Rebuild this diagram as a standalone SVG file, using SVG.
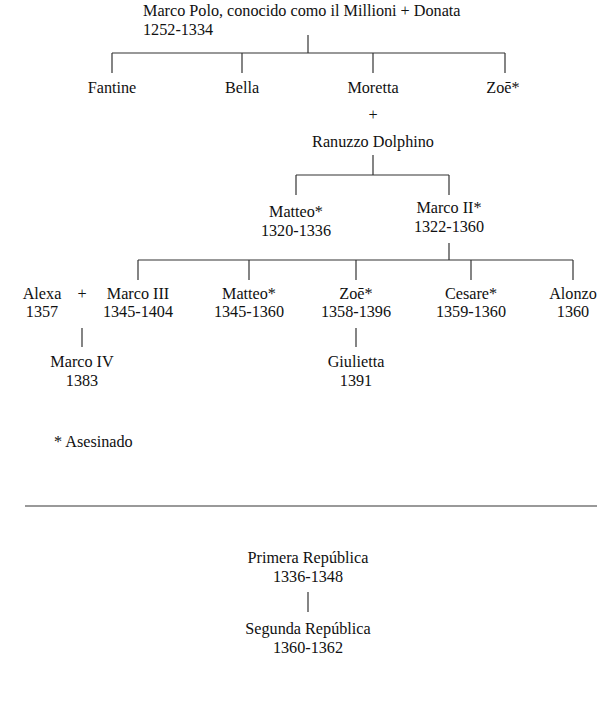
<svg xmlns="http://www.w3.org/2000/svg" width="600" height="707" viewBox="0 0 600 707">
<style>
text{font-family:"Liberation Serif","DejaVu Serif",serif;font-size:16.2px;fill:#111;text-anchor:middle}
.l{text-anchor:start}
.c line{stroke:#333;stroke-width:1.2}
.rule{stroke:#777;stroke-width:1.5}
</style>
<rect width="600" height="707" fill="#fff"/>
<g class="c" id="connectors">
<line x1="308" y1="35" x2="308" y2="53"/>
<line x1="112" y1="53" x2="505" y2="53"/>
<line x1="112" y1="53" x2="112" y2="73"/>
<line x1="242" y1="53" x2="242" y2="73"/>
<line x1="373" y1="53" x2="373" y2="73"/>
<line x1="505" y1="53" x2="505" y2="73"/>
<line x1="373" y1="155" x2="373" y2="175"/>
<line x1="296" y1="175" x2="449" y2="175"/>
<line x1="296" y1="175" x2="296" y2="195"/>
<line x1="449" y1="175" x2="449" y2="195"/>
<line x1="449" y1="243" x2="449" y2="260"/>
<line x1="138" y1="260" x2="573" y2="260"/>
<line x1="138" y1="260" x2="138" y2="280"/>
<line x1="249" y1="260" x2="249" y2="280"/>
<line x1="356" y1="260" x2="356" y2="280"/>
<line x1="471" y1="260" x2="471" y2="280"/>
<line x1="573" y1="260" x2="573" y2="280"/>
<line x1="82" y1="328" x2="82" y2="347"/>
<line x1="356" y1="328" x2="356" y2="347"/>
<line x1="308" y1="592" x2="308" y2="612"/>
</g>
<g id="marco-polo"><text class="l" x="143" y="16">Marco Polo, conocido como il Millioni + Donata</text><text class="l" x="143" y="35">1252-1334</text></g>
<g id="fantine"><text x="112" y="93">Fantine</text></g>
<g id="bella"><text x="242" y="93">Bella</text></g>
<g id="moretta"><text x="373" y="93">Moretta</text><text x="373" y="120">+</text><text x="373" y="147">Ranuzzo Dolphino</text></g>
<g id="zoe1"><text x="503" y="93">Zoē*</text></g>
<g id="matteo1"><text x="296" y="217">Matteo*</text><text x="296" y="236">1320-1336</text></g>
<g id="marco2"><text x="449" y="213">Marco II*</text><text x="449" y="232">1322-1360</text></g>
<g id="alexa"><text x="42" y="299">Alexa</text><text x="42" y="317">1357</text></g>
<g id="plus"><text x="82" y="299">+</text></g>
<g id="marco3"><text x="138" y="299">Marco III</text><text x="138" y="317">1345-1404</text></g>
<g id="matteo2"><text x="249" y="299">Matteo*</text><text x="249" y="317">1345-1360</text></g>
<g id="zoe2"><text x="356" y="299">Zoē*</text><text x="356" y="317">1358-1396</text></g>
<g id="cesare"><text x="471" y="299">Cesare*</text><text x="471" y="317">1359-1360</text></g>
<g id="alonzo"><text x="573" y="299">Alonzo</text><text x="573" y="317">1360</text></g>
<g id="marco4"><text x="82" y="367">Marco IV</text><text x="82" y="386">1383</text></g>
<g id="giulietta"><text x="356" y="367">Giulietta</text><text x="356" y="386">1391</text></g>
<g id="legend"><text class="l" x="54" y="447">* Asesinado</text></g>
<line class="rule" x1="25" y1="506" x2="597" y2="506"/>
<g id="rep1"><text x="308" y="563">Primera República</text><text x="308" y="582">1336-1348</text></g>
<g id="rep2"><text x="308" y="634">Segunda República</text><text x="308" y="653">1360-1362</text></g>
</svg>
